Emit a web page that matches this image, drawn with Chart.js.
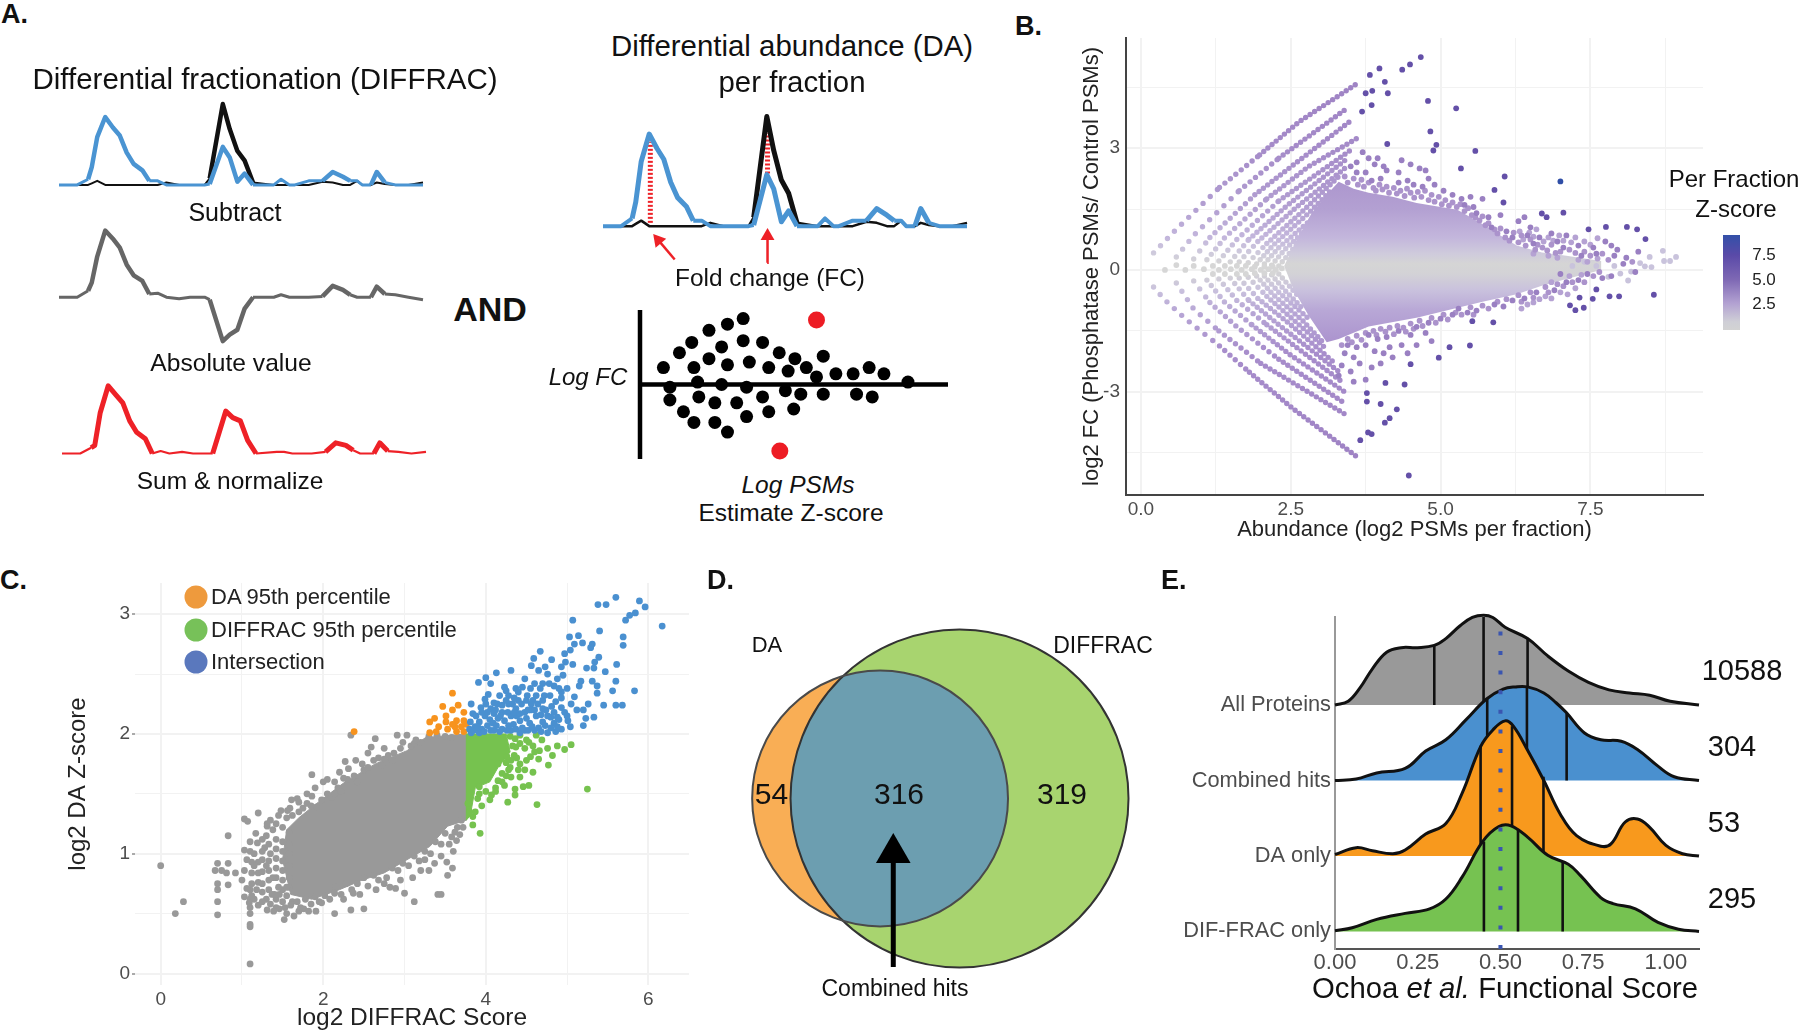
<!DOCTYPE html>
<html>
<head>
<meta charset="utf-8">
<title>DIFFRAC and DA panels</title>
<script src="https://cdn.jsdelivr.net/npm/chart.js@4"></script>
<style>
  html, body { margin: 0; padding: 0; background: #fff; overflow: hidden; }
  #page { position: relative; width: 1800px; height: 1031px; font-family: "Liberation Sans", Arial, sans-serif; color: #111; }
  #page canvas { position: absolute; filter: blur(0.4px); }
  .txt { position: absolute; transform: translate(-50%, -50%); white-space: nowrap; }
  .dot { position: absolute; width: 23px; height: 23px; border-radius: 50%; transform: translate(-50%, -50%); }
</style>
</head>
<body>
<div id="page"></div>
<script>
// ---------- Panel A: elution traces ----------
const fractions   = [0,5,8,9,10.5,12.7,14.8,16.7,18.6,20.5,22.9,24.8,27.1,29.5,33,36,40,41.4,45,46.9,49,51,53.3,59,61,63.3,64.8,68.6,72.4,75.2,78,80,81.9,83.3,85.7,87.3,89.5,92.4,96,100];
const controlPsms = [0,0,0,2,5,0,0,0,0,0,0,0,0,3,0,0,0,8,100,69,42,30,3,0,0,0,0,0,4,3,0,0,5,0,0,3,1,0,0,3];
const treatedPsms = [0,0,7,22,59,84,71,61,40,26,18,5,5,0,0,0,0,1,47,34,4,14,0,0,7,0,0,5,5,16,10,5,5,0,0,16,3,0,0,0];
const subtracted  = [0,0,8,18,50,82,72,61,40,27,20,4,5,0,-2,0,0,-3,-54,-46,-40,-14,0,0,3,0,0,0,1,14,9,3,0,0,0,13,4,3,0,-3];
const summedNorm  = [0,0,7,10,50,83,72,62,40,26,18,0,3,0,2,0,0,0,52,44,40,16,0,2,2,0,0,0,2,13,10,4,0,0,0,13,3,2,0,2];
const fcMarkerLeft  = [[13,3],[13,77]];
const fcMarkerRight = [[45.2,48],[45.2,85]];
const fcArrowLeft   = [[19.7,-30.4],[15.2,-12.8]];
const fcArrowRight  = [[45.1,-33.5],[45.2,-9]];

// schematic volcano
const schemDots = [[7.6,24.5],[12.8,46],[16.8,61],[22.4,78.5],[28.4,87.5],[33.5,95.5],[26.5,54.5],[33.5,63.5],[39.8,61],[45.2,46],[50.3,37.5],[59.5,41],[17.5,24.5],[22.4,37.5],[28.4,28.5],[35.5,32.5],[41.8,24.5],[48.1,19.5],[54,24.5],[57.3,11],[63.6,15.5],[69.2,15.5],[74.4,24.5],[79.2,15.5],[87,3.5],[18.7,3.5],[26.5,0],[9.7,-4],[34.6,-4],[47.2,-9],[52.2,-14],[59.5,-14],[70.3,-14],[75.4,-18],[9.7,-22.5],[19.1,-18],[24.3,-26.5],[31.4,-26.5],[39.8,-18],[14.1,-39.5],[17.5,-55],[24.3,-55],[34.6,-46.5],[41.8,-39.5],[49.9,-35.5],[28.4,-69]];
const schemHits = [[57.3,93.5],[45.4,-96.5]];
const schemAxisX = [[0,0],[100,0]];
const schemAxisY = [[0,108],[0,-108]];

// ---------- Panel B ----------
const bTicksX = [0, 2.5, 5, 7.5];
const bTicksY = [-3, 0, 3];
const bCloud = [[2.39,.1],[2.6,.75],[2.85,1.4],[3.1,1.85],[3.3,2.17],[3.55,2.0],[3.8,1.9],[4.2,1.8],[4.6,1.65],[5.28,1.48],[5.7,1.13],[6.0,.85],[6.27,.6],[6.69,.43],[7.1,.35],[7.68,.22],[7.68,0],[7.1,-.22],[6.69,-.39],[6.27,-.6],[5.7,-.78],[5.2,-.96],[4.62,-1.17],[3.8,-1.39],[3.3,-1.7],[3.1,-1.78],[2.8,-1.13],[2.55,-.5],[2.39,.1]];
const bUpperStripes = [
  [[.21,.42],[.59,1.0],[1.31,2.03],[1.98,2.83],[2.64,3.65],[3.63,4.61]],
  [[.59,.32],[.88,.85],[1.64,1.95],[2.3,2.75],[3.42,3.96]],
  [[.88,.27],[1.15,.8],[1.9,1.85],[2.6,2.65],[3.5,3.67]],
  [[1.1,.25],[1.4,.8],[2.1,1.75],[2.8,2.55],[3.63,3.26]],
  [[1.3,.22],[1.6,.75],[2.3,1.7],[3.5,2.95]],
  [[1.49,.2],[1.8,.75],[2.45,1.6],[3.45,2.75]],
  [[1.64,.2],[1.95,.7],[2.6,1.55],[3.4,2.5]],
  [[1.79,.18],[2.1,.65],[2.7,1.45],[3.3,2.3]],
  [[1.93,.15],[2.2,.6],[2.8,1.4],[3.2,2.0]],
  [[2.06,.15],[2.3,.55],[2.85,1.25],[3.1,1.7]],
  [[2.18,.12],[2.4,.5],[2.8,1.05]],
  [[2.3,.1],[2.5,.45],[2.7,.8]]
];
const bLowerStripes = [
  [[.21,-.42],[.4,-.74],[.74,-1.2],[1.31,-1.87],[1.81,-2.52],[2.55,-3.43],[3.05,-3.98],[3.63,-4.63]],
  [[.59,-.32],[.88,-.96],[1.3,-1.5],[2.0,-2.3],[2.9,-3.1],[3.46,-3.6]],
  [[.88,-.27],[1.15,-.8],[1.6,-1.4],[2.3,-2.2],[3.42,-3.3]],
  [[1.1,-.25],[1.4,-.8],[1.85,-1.35],[2.5,-2.1],[3.4,-3.0]],
  [[1.3,-.22],[1.6,-.75],[2.1,-1.35],[3.35,-2.75]],
  [[1.49,-.2],[1.8,-.75],[2.3,-1.35],[3.3,-2.5]],
  [[1.64,-.2],[1.95,-.7],[2.5,-1.35],[3.2,-2.25]],
  [[1.79,-.18],[2.1,-.65],[2.6,-1.3],[3.1,-1.95]],
  [[1.93,-.15],[2.2,-.6],[2.7,-1.25],[3.05,-1.8]],
  [[2.06,-.15],[2.3,-.55],[2.8,-1.2]],
  [[2.18,-.12],[2.4,-.5],[2.7,-.95]],
  [[2.3,-.1],[2.45,-.35],[2.6,-.6]]
];
// row of points around log2 FC = 0 between the two stripe fans
const bCentreRow = [[.4,0],[.74,0],[1.05,.02],[1.3,0],[1.5,.02],[1.68,0],[1.85,.02],[2.0,0],[2.13,.02],[2.25,0],[2.35,.04],[.59,.12],[.88,.1],[1.2,.1],[1.4,.1],[1.6,.1],[1.75,.1],[1.9,.08],[2.06,.08],[2.2,.08],[1.2,-.1],[1.4,-.1],[1.6,-.1],[1.75,-.1],[1.9,-.08],[2.06,-.08],[2.2,-.08]];
const bNavy = [[7.0,2.18]];
const bHigh = [[4.67,5.24],[4.49,5.06],[4.36,4.93],[3.98,4.96],[3.82,4.8],[4.07,4.63],[3.86,4.41],[3.75,4.35],[4.12,4.35],[3.85,4.06],[3.69,3.9],[4.79,4.16],[5.26,3.98],[4.83,3.41],[4.93,3.08],[4.88,2.94],[4.11,3.1],[5.58,2.93],[5.34,2.5],[6.07,2.3],[5.9,1.97],[6.05,1.66],[7.05,1.41],[6.69,1.39],[6.77,1.3],[7.47,1.0],[7.76,1.06],[8.11,1.06],[8.28,1.0],[8.42,.76],[8.56,-.61],[5.49,-1.86],[5.15,-1.9],[4.97,-2.16],[4.47,-5.06],[4.5,-2.32],[4.08,-2.78],[4.4,-2.82],[4.27,-3.43],[4.15,-3.65],[4.07,-3.76],[4.0,-3.3],[3.77,-3.03],[3.77,-3.24],[3.66,-4.19],[3.79,-4.0],[3.85,-4.04],[7.16,-.87],[7.39,-.93],[7.25,-.99],[7.32,-.68],[7.54,-.71],[7.6,-.48],[7.82,-.65],[7.98,-.65],[5.88,-1.29],[5.53,-1.26]];
const bMid = [[3.7,2.9],[3.8,2.75],[3.9,2.6],[3.6,2.65],[3.75,2.4],[3.95,2.75],[4.05,2.55],[4.1,2.45],[4.3,2.4],[4.35,2.7],[4.5,2.6],[4.65,2.5],[4.75,2.45],[4.8,2.25],[4.3,2.15],[4.45,2.2],[4.55,2.1],[4.7,2.05],[4.9,2.1],[5.05,1.95],[5.2,1.85],[5.35,1.75],[4.0,2.25],[3.85,2.2],[3.6,2.4],[3.5,2.55],[5.5,1.8],[5.7,1.75],[5.55,1.55],[5.8,1.3],[6.0,1.35],[5.4,1.6],[5.6,1.4],[5.85,1.05],[6.1,.95],[6.3,1.2],[6.4,1.3],[6.5,1.05],[6.2,.8],[6.45,.85],[6.65,.8],[6.85,.9],[6.55,.65],[6.95,.7],[7.1,.85],[7.05,.55],[7.3,.6],[7.55,.55],[7.75,.7],[7.85,.6],[7.6,.4],[7.95,.5],[8.1,.3],[8.3,.45],[8.05,.15],[7.9,.35],[7.35,.35],[7.45,-.1],[7.3,-.25],[7.1,-.3],[7.0,-.1],[7.7,-.2],[7.85,-.15],[8.25,-.05],[6.9,-.5],[6.6,-.55],[6.4,-.7],[6.2,-.75],[6.05,-.9],[5.9,-.85],[5.6,-1.0],[5.3,-.95],[5.45,-1.05],[5.2,-1.1],[5.0,-1.2],[4.8,-1.3],[4.6,-1.4],[4.75,-1.55],[4.5,-1.6],[4.3,-1.5],[4.1,-1.65],[3.95,-1.7],[3.8,-1.6],[4.15,-1.9],[4.35,-1.85],[4.6,-1.85],[4.85,-1.75],[4.05,-2.05],[4.2,-2.15],[3.9,-2.0],[3.75,-1.85],[3.6,-1.9],[3.45,-1.85],[3.4,-2.05],[3.55,-2.15],[3.65,-2.3],[4.0,-2.3],[4.45,-2.05],[3.85,-2.4],[3.5,-2.5],[3.35,-2.35],[3.3,-2.6],[3.55,-2.75],[3.75,-2.7]];
// speckle hugging the dense cloud
const bEdgeUpper = [[3.4,2.3],[3.45,2.15],[3.55,2.25],[3.62,2.1],[3.68,2.22],[3.72,2.05],[3.8,2.15],[3.88,2.02],[3.92,1.95],[3.98,2.1],[4.03,1.98],[4.1,2.05],[4.14,1.9],[4.22,2.02],[4.27,1.88],[4.33,1.95],[4.4,1.82],[4.44,2.0],[4.5,1.9],[4.56,1.78],[4.62,1.92],[4.68,1.8],[4.74,1.95],[4.8,1.72],[4.85,1.85],[4.9,1.68],[4.97,1.8],[5.02,1.62],[5.08,1.72],[5.14,1.58],[5.2,1.66],[5.27,1.55],[5.33,1.62],[5.4,1.45],[5.46,1.52],[5.52,1.35],[5.58,1.3],[5.65,1.22],[5.7,1.32],[5.75,1.1],[5.8,1.15],[5.9,1.0],[5.95,.9],[6.0,1.02],[6.08,.8],[6.15,.72],[6.22,.92],[6.3,.68],[6.35,.85],[6.42,.6],[6.5,.75],[6.58,.5],[6.62,.62],[6.7,.55],[6.78,.48],[6.85,.62],[6.92,.42],[7.0,.45],[7.15,.5],[7.25,.42],[7.4,.45],[7.5,.35],[7.7,.4],[8.2,.2],[7.8,.25]];
const bEdgeLower = [[3.35,-1.85],[3.45,-1.7],[3.52,-1.78],[3.6,-1.62],[3.68,-1.72],[3.75,-1.55],[3.88,-1.5],[3.93,-1.6],[4.0,-1.45],[4.08,-1.52],[4.15,-1.42],[4.22,-1.58],[4.28,-1.38],[4.38,-1.42],[4.42,-1.52],[4.5,-1.32],[4.55,-1.45],[4.65,-1.25],[4.7,-1.38],[4.85,-1.18],[4.92,-1.3],[5.05,-1.1],[5.12,-1.22],[5.25,-1.05],[5.35,-1.1],[5.5,-.92],[5.55,-1.1],[5.7,-.88],[5.8,-.95],[5.95,-.78],[6.1,-.72],[6.3,-.62],[6.35,-.78],[6.5,-.55],[6.55,-.68],[6.75,-.42],[6.8,-.55],[6.95,-.35],[7.05,-.4],[7.2,-.3],[7.4,-.3],[7.55,-.15],[7.65,-.05]];
// broader right-hand tail of the cloud
const bTail = [[6.32,.95],[6.38,.75],[6.48,.92],[6.55,.82],[6.6,1.0],[6.72,.7],[6.8,.8],[6.88,.72],[6.98,.85],[7.05,.72],[7.18,.68],[7.25,.8],[7.4,.7],[7.5,.62],[7.62,.78],[6.35,-.95],[6.45,-.85],[6.55,-.8],[6.65,-.72],[6.75,-.65],[6.85,-.7],[7.0,-.55],[7.12,-.6],[7.25,-.45],[6.55,.4],[6.8,.35],[6.95,.3],[7.3,.25],[7.45,.2],[7.62,.28],[6.85,-.3],[7.15,-.15],[7.35,-.12]];
const bLow = [[8.93,.32],[8.71,.47],[8.83,.22],[8.73,.22],[8.49,.32],[8.33,.17],[8.41,.09],[8.52,.07],[8.0,-.09],[8.18,-.04],[8.13,-.26],[7.8,-.17],[7.6,.1],[7.4,.2],[7.2,.1],[7.9,.1]];
const zBarRange = [-.23, 9.6];
const zBarTicks = [2.5, 5, 7.5];

// ---------- Panel C ----------
const cGrayCore = [[1.6,.66],[1.5,.95],[1.55,1.2],[1.7,1.3],[1.92,1.42],[2.25,1.59],[2.64,1.75],[3.03,1.86],[3.26,1.97],[3.76,2.0],[3.76,1.28],[3.53,1.23],[3.31,1.06],[3.03,.95],[2.75,.84],[2.48,.78],[2.2,.7],[1.86,.62],[1.6,.66]];
const cGray = [[0,.9],[.18,.5],[.28,.6],[.7,.49],[.7,.6],[1.1,.08],[1.1,.39],[1.1,.41],[1.1,.5],[.83,1.15],[1.03,1.29],[1.07,1.27],[1.2,1.34],[.67,.86],[.7,.92],[.83,.92],[.81,.84],[.75,.86],[.92,.84],[.7,.75],[.7,.7],[.83,.74],[1.03,1.03],[1.06,.95],[1.03,.86],[1.0,.78],[1.06,.71],[1.03,.64],[1.09,.59],[1.2,.57],[1.2,.84],[1.19,1.09],[1.17,1.17],[1.31,1.23],[1.31,.53],[1.39,.52],[1.52,.45],[1.53,.55],[1.64,.48],[1.91,.52],[2.14,.5],[2.34,.53],[2.5,.54],[2.89,.71],[3.0,.67],[3.12,.6],[3.41,.66],[3.45,.66],[2.75,.75],[2.37,.67],[2.14,.67],[1.98,.59],[3.37,.92],[3.53,.82],[3.59,.88],[3.52,.93],[3.2,.86],[3.64,1.11],[3.62,1.18],[3.7,1.28],[1.86,1.66],[2.0,1.6],[2.14,1.6],[2.27,1.77],[2.31,1.71],[2.48,1.75],[2.34,1.99],[2.64,1.96],[2.59,1.89],[2.75,1.88],[2.75,1.79],[2.91,1.99],[2.98,1.93],[3.03,1.99],[3.14,1.95],[2.87,1.84],[1.61,1.45],[1.7,1.43],[1.86,1.48],[2.14,1.5],[2.25,1.63],[1.45,1.32],[1.31,1.25],[1.59,1.38],[1.92,1.39],[1.15,.9],[1.18,.7],[1.25,.6],[1.15,1.0],[1.25,.85],[1.25,.75],[1.12,.65]];
const cGrayEdge = [[1.3,.62],[1.35,.58],[1.4,.66],[1.42,.55],[1.5,.6],[1.55,.65],[1.45,.72],[1.38,.8],[1.3,.9],[1.35,1.0],[1.28,1.05],[1.25,1.12],[1.3,1.15],[1.38,1.2],[1.42,1.25],[1.5,1.22],[1.55,1.3],[1.62,1.32],[1.7,1.35],[1.75,1.38],[1.8,1.42],[1.85,1.4],[1.98,1.45],[2.05,1.5],[2.1,1.47],[2.18,1.55],[2.22,1.52],[2.3,1.62],[2.38,1.65],[2.42,1.6],[2.5,1.7],[2.55,1.72],[2.62,1.78],[2.68,1.8],[2.72,1.74],[2.8,1.82],[2.85,1.78],[2.95,1.88],[3.08,1.9],[3.12,1.92],[3.2,1.93],[3.3,1.98],[3.4,1.99],[3.5,1.98],[3.58,1.97],[1.6,.57],[1.68,.6],[1.72,.55],[1.78,.62],[1.85,.58],[1.9,.64],[1.95,.6],[2.02,.65],[2.08,.62],[2.15,.72],[2.22,.66],[2.28,.75],[2.35,.7],[2.42,.75],[2.5,.8],[2.55,.73],[2.62,.82],[2.68,.78],[2.78,.8],[2.85,.88],[2.92,.86],[2.98,.92],[3.05,.9],[3.12,.98],[3.18,.94],[3.25,1.02],[3.32,1.0],[3.38,1.1],[3.45,1.08],[3.5,1.17],[3.58,1.14],[3.65,1.22],[3.72,1.22]];
// loose columns left of the dense core
const cGrayLeft = [[1.33,.7],[1.33,.78],[1.33,.86],[1.33,.94],[1.33,1.08],[1.42,.62],[1.42,.8],[1.42,.88],[1.42,.96],[1.42,1.04],[1.42,1.12],[1.5,.7],[1.5,.78],[1.5,.86],[1.5,.94],[1.5,1.02],[1.5,1.1],[1.58,.72],[1.58,.8],[1.58,.9],[1.58,1.0],[1.58,1.08],[1.58,1.18],[1.25,.68],[1.25,.95],[1.25,1.02],[1.2,.76],[1.2,.93],[1.12,.75],[1.12,.84],[1.12,.93],[1.1,1.02],[1.1,1.1],[1.1,.7],[1.1,.62],[1.1,.55],[1.15,.62],[1.37,.66],[1.46,.66],[1.55,.72],[1.62,.6],[1.46,.54],[1.55,.5],[1.7,.52],[1.76,.54],[1.82,.52],[1.35,1.28],[1.48,1.36],[1.56,1.36],[1.68,1.46],[1.8,1.5],[1.9,1.55],[2.05,1.62],[2.2,1.68],[2.4,1.78],[2.55,1.84],[3.3,.86],[3.45,.98],[3.25,.95],[3.1,.8],[2.95,.78],[2.82,.72],[2.65,.7],[2.45,.66],[2.25,.62],[3.6,1.02],[3.55,1.08],[3.68,1.16]];
const cOrange = [[2.38,2.02],[3.59,2.34],[3.47,2.23],[3.66,2.24],[3.59,2.2],[3.73,2.18],[3.51,2.15],[3.64,2.11],[3.73,2.11],[3.37,2.13],[3.31,2.1],[3.51,2.1],[3.42,2.06],[3.53,2.04],[3.62,2.06],[3.7,2.06],[3.76,2.08],[3.39,2.02],[3.31,2.01],[3.64,2.02],[3.73,2.02],[3.59,2.08]];
const cGreenCore = [[3.76,2.0],[4.25,2.0],[4.3,1.85],[4.15,1.72],[4.05,1.6],[3.87,1.55],[3.81,1.32],[3.76,1.28],[3.76,2.0]];
const cGreen = [[5.25,1.54],[4.63,1.41],[4.27,1.43],[4.07,1.49],[3.93,1.17],[3.84,1.24],[3.84,1.31],[3.87,1.35],[3.95,1.4],[3.9,1.46],[4.36,1.49],[4.36,1.54],[4.46,1.56],[4.53,1.57],[4.23,1.57],[4.31,1.64],[4.48,1.7],[4.58,1.68],[4.77,1.74],[4.82,1.82],[4.65,1.79],[4.55,1.81],[4.66,1.86],[4.76,1.88],[4.88,1.9],[4.97,1.87],[5.05,1.91],[4.69,1.95],[4.62,1.99],[4.53,1.93],[4.42,1.99],[4.48,1.88],[4.31,1.78],[4.42,1.75],[4.37,1.89],[4.2,1.67],[4.15,1.75],[4.26,1.81],[4.15,1.61],[4.42,1.64],[3.92,1.56],[3.8,1.35],[3.78,1.42],[3.92,1.5],[4.0,1.52],[4.05,1.45],[4.12,1.55],[4.2,1.6],[4.25,1.65],[4.3,1.72],[4.4,1.7],[4.5,1.78],[4.5,1.95],[4.58,1.9],[4.6,1.85],[4.42,1.92],[4.35,1.82],[4.28,1.7],[4.12,1.52],[4.3,1.98],[4.36,1.96],[4.33,1.9],[4.38,1.8],[4.25,1.76]];
const cBlue = [[5.6,3.14],[5.89,3.11],[5.96,3.06],[5.38,3.08],[5.48,3.08],[5.84,3.01],[5.77,2.99],[5.72,2.95],[6.17,2.9],[5.07,2.95],[5.4,2.86],[5.69,2.81],[5.69,2.74],[5.03,2.81],[5.14,2.82],[5.09,2.75],[5.19,2.76],[5.31,2.75],[5.29,2.72],[5.04,2.7],[4.97,2.67],[4.67,2.69],[4.59,2.63],[4.81,2.62],[5.39,2.64],[5.34,2.6],[4.98,2.6],[5.07,2.58],[5.61,2.58],[4.56,2.57],[4.73,2.56],[4.93,2.56],[5.24,2.55],[5.33,2.55],[5.47,2.52],[4.31,2.53],[4.13,2.51],[4.65,2.53],[4.76,2.5],[4.95,2.49],[4.0,2.47],[4.48,2.46],[5.17,2.44],[5.6,2.44],[5.31,2.44],[3.91,2.43],[4.06,2.42],[4.7,2.42],[4.84,2.4],[5.15,2.4],[5.37,2.4],[4.23,2.39],[4.37,2.38],[4.45,2.39],[4.67,2.38],[5.56,2.36],[5.83,2.36],[5.37,2.34],[4.93,2.35],[4.03,2.33],[4.17,2.32],[4.28,2.32],[4.51,2.32],[4.62,2.32],[4.79,2.32],[5.09,2.31],[3.99,2.29],[4.4,2.28],[4.7,2.28],[4.93,2.3],[5.45,2.24],[5.6,2.24],[5.68,2.24],[5.26,2.25],[3.82,2.25],[4.14,2.25],[4.28,2.25],[4.56,2.25],[4.81,2.23],[3.94,2.22],[4.06,2.21],[4.37,2.21],[4.7,2.21],[4.93,2.22],[5.2,2.2],[4.2,2.18],[4.48,2.18],[4.84,2.18],[3.84,2.17],[3.99,2.15],[4.31,2.15],[4.62,2.15],[4.76,2.15],[5.23,2.13],[5.33,2.14],[5.01,2.11],[3.81,2.1],[3.92,2.1],[4.09,2.09],[4.23,2.11],[4.42,2.11],[4.54,2.09],[4.7,2.1],[4.84,2.09],[5.2,2.07],[5.04,2.06],[4.93,2.04],[3.8,2.04],[3.95,2.04],[4.06,2.03],[4.2,2.04],[4.31,2.03],[4.48,2.03],[4.6,2.03],[4.76,2.01],[4.86,2.02],[3.82,2.01],[3.92,2.01],[4.42,2.01],[4.12,2.2],[4.35,2.3],[4.55,2.2],[4.15,2.13],[4.38,2.15],[4.58,2.28],[4.25,2.28],[3.87,2.06],[3.85,2.03],[3.9,2.06],[3.98,2.02],[4.02,2.07],[4.05,2.12],[4.1,2.03],[4.13,2.07],[4.17,2.02],[4.26,2.03],[4.28,2.07],[4.34,2.08],[4.37,2.04],[4.45,2.05],[4.52,2.03],[4.57,2.06],[4.65,2.05],[4.68,2.02],[4.73,2.07],[4.8,2.05],[4.88,2.06],[4.9,2.12],[3.88,2.15],[3.95,2.18],[4.02,2.18],[4.1,2.17],[4.18,2.15],[4.27,2.18],[4.35,2.18],[4.42,2.17],[4.5,2.13],[4.52,2.2],[4.6,2.2],[4.68,2.16],[4.74,2.2],[4.8,2.14],[4.88,2.14],[4.97,2.18],[4.0,2.25],[4.1,2.26],[4.2,2.24],[4.33,2.25],[4.44,2.25],[4.5,2.28],[4.64,2.25],[4.72,2.32],[4.86,2.27],[4.4,2.35],[4.55,2.38],[4.25,2.36],[4.6,2.42],[4.78,2.42],[4.88,2.46],[4.9,2.38],[5.0,2.38],[5.05,2.25],[5.0,2.15],[5.12,2.2]];

// ---------- Panel D ----------
const vennBig   = { x: 0, y: 0, radius: 1 };
const vennSmall = { x: -.47, y: 0, radius: .757 };
const vennArrow = [[-.392,-.997],[-.392,-.322]];

// ---------- Panel E ----------
const ridgeNames = ['DIF-FRAC only', 'DA only', 'Combined hits', 'All Proteins'];
const ridgeBases = [0, 1, 2, 3];
const scoreTicks = [0, .25, .5, .75, 1];
const allX  = [0,.04,.076,.113,.156,.2,.249,.3,.335,.378,.415,.449,.477,.514,.582,.643,.705,.766,.828,.89,.951,1.013,1.1];
const allY  = [0,.05,.23,.48,.70,.76,.76,.79,.88,1.05,1.16,1.19,1.16,1.03,.88,.65,.45,.30,.2,.16,.13,.05,0];
const combX = [0,.064,.126,.212,.274,.335,.397,.458,.508,.545,.582,.631,.668,.699,.754,.803,.865,.914,.976,1.025,1.1];
const combY = [0,.02,.1,.16,.39,.54,.81,1.08,1.21,1.24,1.24,1.16,1.03,.9,.63,.54,.52,.41,.19,.05,0];
const daX   = [0,.064,.113,.175,.212,.274,.335,.384,.44,.477,.514,.539,.582,.631,.68,.73,.803,.834,.877,.914,.951,1.0,1.05,1.1];
const daY   = [.02,.11,.07,.03,.08,.29,.43,.83,1.45,1.67,1.79,1.72,1.4,1.0,.56,.27,.13,.16,.45,.49,.38,.14,.03,0];
const difX  = [0,.052,.126,.212,.286,.335,.384,.446,.495,.532,.582,.643,.705,.742,.803,.84,.908,.976,1.038,1.1];
const difY  = [.01,.05,.16,.24,.3,.43,.72,1.19,1.39,1.4,1.25,1.01,.89,.74,.45,.37,.3,.12,.03,0];
const allQuant  = [[.3,.79],[.449,1.19],[.582,.88]];
const combQuant = [[.46,1.08],[.58,1.24],[.70,.89]];
const daQuant   = [[.44,1.46],[.535,1.72],[.63,1.05]];
const difQuant  = [[.45,1.19],[.553,1.36],[.688,.92]];
const refScore  = .5;

// ---------- helpers ----------
const page = document.getElementById('page');
const SANS = '"Liberation Sans", Arial, sans-serif';
const TICK = '#4d4d4d';
const pts = arr => arr.map(([x, y]) => ({ x, y }));
const series = (xs, ys) => xs.map((x, i) => ({ x, y: ys[i] }));

function addText(html, x, y, size, extra) {
  const el = document.createElement('div');
  el.className = 'txt';
  el.innerHTML = html;
  el.style.left = x + 'px';
  el.style.top = y + 'px';
  el.style.fontSize = size + 'px';
  if (extra) Object.assign(el.style, extra);
  page.appendChild(el);
}

// puts a chart so that its plot area lands on the given rectangle; m = canvas margins
function addChart(rect, m, config) {
  const c = document.createElement('canvas');
  c.width = rect.right - rect.left + m.l + m.r;
  c.height = rect.bottom - rect.top + m.t + m.b;
  c.style.left = (rect.left - m.l) + 'px';
  c.style.top = (rect.top - m.t) + 'px';
  page.appendChild(c);
  const o = config.options = config.options || {};
  o.responsive = false;
  o.animation = false;
  o.devicePixelRatio = 1;
  o.plugins = Object.assign({ legend: { display: false }, tooltip: { enabled: false } }, o.plugins);
  // autoPadding would shrink the plot to make room for big points
  o.layout = { autoPadding: false, padding: m.axes ? { top: m.t, right: m.r, left: 0, bottom: 0 } : { top: m.t, right: m.r, left: m.l, bottom: m.b } };
  if (m.axes) {
    o.scales.x.afterFit = s => { s.height = m.b; };
    o.scales.y.afterFit = s => { s.width = m.l; };
  }
  return new Chart(c.getContext('2d'), config);
}

const hiddenScales = (xmin, xmax, ymin, ymax) => ({
  x: { type: 'linear', display: false, min: xmin, max: xmax },
  y: { type: 'linear', display: false, min: ymin, max: ymax }
});

// vertical gradient pinned to y-axis values
function yGradient(chart, stops) {
  const sc = chart.scales.y;
  const top = stops[0][0], bot = stops[stops.length - 1][0];
  const p0 = sc ? sc.getPixelForValue(top) : NaN, p1 = sc ? sc.getPixelForValue(bot) : NaN;
  // before the first layout the scale has no pixels yet
  if (!isFinite(p0) || !isFinite(p1)) return stops[stops.length >> 1][1];
  const g = chart.ctx.createLinearGradient(0, p0, 0, p1);
  stops.forEach(([v, col]) => g.addColorStop((top - v) / (top - bot), col));
  return g;
}

// ---------- Panel A charts ----------
function traceLine(ys, color, thick, thin) {
  return {
    data: series(fractions, ys), borderColor: color, borderWidth: thick,
    pointRadius: 0, clip: false, borderJoinStyle: 'round', tension: 0,
    segment: { borderWidth: ctx => Math.max(Math.abs(ctx.p0.parsed.y), Math.abs(ctx.p1.parsed.y)) > 8 ? thick : thin }
  };
}
function traceChart(rect, ymin, ymax, datasets) {
  addChart(rect, { l: 10, r: 10, t: 10, b: 10 }, {
    type: 'line', data: { datasets },
    options: { parsing: true, scales: hiddenScales(0, 100, ymin, ymax) }
  });
}
traceChart({ left: 58.6, right: 422.6, top: 100.4, bottom: 194.2 }, -10, 105, [
  traceLine(treatedPsms, '#4a94d2', 4.5, 3), traceLine(controlPsms, '#111', 4.5, 2)
]);
traceChart({ left: 58.6, right: 422.6, top: 219.6, bottom: 345.9 }, -60, 95, [traceLine(subtracted, '#666', 4.5, 3)]);
traceChart({ left: 61.6, right: 425.6, top: 376, bottom: 460 }, -8, 95, [traceLine(summedNorm, '#ee2127', 5, 2.2)]);

const arrowDs = (arr, rot) => ({
  data: pts(arr), borderColor: '#ee2127', backgroundColor: '#ee2127', borderWidth: 2.5, clip: false,
  pointRadius: [0, 8], pointStyle: 'triangle', pointRotation: rot, pointBorderWidth: 0
});
const markerDs = arr => ({ data: pts(arr), borderColor: '#ee2127', borderWidth: 5, borderDash: [2, 2], pointRadius: 0 });
traceChart({ left: 603, right: 967, top: 110.5, bottom: 270 }, -40, 105, [
  arrowDs(fcArrowLeft, -40), arrowDs(fcArrowRight, 0),
  traceLine(treatedPsms, '#4a94d2', 5, 4), traceLine(controlPsms, '#111', 5, 2.5),
  markerDs(fcMarkerLeft), markerDs(fcMarkerRight)
]);

const schemLine = arr => ({ type: 'line', data: pts(arr), borderColor: '#000', borderWidth: 4.5, pointRadius: 0, clip: false });
addChart({ left: 640, right: 948, top: 310, bottom: 459 }, { l: 10, r: 10, t: 10, b: 10 }, {
  type: 'scatter',
  data: { datasets: [
    { data: pts(schemHits), backgroundColor: '#ed1c24', pointRadius: 8.5, borderWidth: 0, clip: false },
    { data: pts(schemDots), backgroundColor: '#000', pointRadius: 6.5, borderWidth: 0, clip: false },
    schemLine(schemAxisX), schemLine(schemAxisY)
  ] },
  options: { scales: hiddenScales(0, 100, -108, 108) }
});

// ---------- Panel B chart ----------
const yRamp = [[5.7,'#9b7ec1'],[3,'#a58bc9'],[1.5,'#b3a0d2'],[.8,'#c3b6dc'],[.4,'#cfcbdc'],[.15,'#d5d5d5'],[-.1,'#d3d2d6'],[-.5,'#c9c1dd'],[-1,'#b8a7d6'],[-2,'#a88ecc'],[-5.5,'#9b7ec1']];
const stripeDs = s => ({
  type: 'line', data: pts(s), pointRadius: 0, borderWidth: 5.4, borderCapStyle: 'round',
  borderColor: ctx => yGradient(ctx.chart, yRamp),
  segment: { borderDash: ctx => ctx.p0.parsed.x < 1 ? [0, 10] : ctx.p0.parsed.x < 1.8 ? [0, 7] : [0, 5.4] }
});
const dotsDs = (arr, color) => ({ data: pts(arr), backgroundColor: color, pointRadius: 2.9, borderWidth: 0 });
const gridWidth = majors => ctx => ctx.tick && majors.includes(ctx.tick.value) ? 2 : 1;

addChart({ left: 1126, right: 1703, top: 38, bottom: 495 }, { l: 50, r: 20, t: 30, b: 50, axes: true }, {
  type: 'scatter',
  data: { datasets: [
    dotsDs(bNavy, '#2f4ea6'),
    dotsDs(bHigh, '#6450a8'),
    dotsDs(bMid, '#9a80c2'),
    dotsDs(bEdgeUpper, '#ab93cc'),
    dotsDs(bEdgeLower, '#ab93cc'),
    dotsDs(bTail, '#b5a2d3'),
    dotsDs(bLow, '#c9c3dc'),
    dotsDs(bCentreRow, '#d6d6d6'),
    { type: 'line', data: pts(bCloud), fill: 'shape', pointRadius: 0, borderWidth: 0,
      backgroundColor: ctx => yGradient(ctx.chart, yRamp) },
    ...bUpperStripes.map(stripeDs),
    ...bLowerStripes.map(stripeDs)
  ] },
  options: { scales: {
    x: {
      type: 'linear', min: -.25, max: 9.38,
      border: { display: true, color: '#444', width: 2 },
      grid: { color: '#f2f2f2', drawTicks: false, lineWidth: gridWidth(bTicksX) },
      ticks: { stepSize: 1.25, includeBounds: false, autoSkip: false, maxRotation: 0, padding: 3, color: TICK,
        font: { family: SANS, size: 19 }, callback: v => bTicksX.includes(v) ? v.toFixed(1) : '' },
      title: { display: true, text: 'Abundance (log2 PSMs per fraction)', color: '#222',
        font: { family: SANS, size: 22 }, padding: { top: 0, bottom: 2 } }
    },
    y: {
      type: 'linear', min: -5.54, max: 5.71,
      border: { display: true, color: '#444', width: 2 },
      grid: { color: '#f2f2f2', drawTicks: false, lineWidth: gridWidth(bTicksY) },
      ticks: { stepSize: 1.5, includeBounds: false, autoSkip: false, padding: 6, color: TICK,
        font: { family: SANS, size: 19 }, callback: v => bTicksY.includes(v) ? String(v) : '' },
      title: { display: true, text: 'log2 FC (Phosphatase PSMs/ Control PSMs)', color: '#222',
        font: { family: SANS, size: 22 }, padding: { top: 3, bottom: 0 } }
    }
  } }
});

// z-score colour bar
const zRamp = [[9.6,'#3350a8'],[7.5,'#5a4aa8'],[5,'#7e68b4'],[2.5,'#b3a2d2'],[.6,'#cfcfd6'],[-.23,'#d3d3d3']];
addChart({ left: 1722.5, right: 1740, top: 234.5, bottom: 330 }, { l: 2, r: 50, t: 6, b: 6, axes: true }, {
  type: 'bar',
  data: { labels: [''], datasets: [{ data: [zBarRange], barPercentage: 1, categoryPercentage: 1, borderWidth: 0,
    backgroundColor: ctx => yGradient(ctx.chart, zRamp) }] },
  options: { scales: {
    x: { display: true, ticks: { display: false }, grid: { display: false }, border: { display: false } },
    y: { type: 'linear', position: 'left', min: zBarRange[0], max: zBarRange[1],
      grid: { display: false }, border: { display: false },
      afterBuildTicks: s => { s.ticks = zBarTicks.map(value => ({ value })); },
      ticks: { display: false } }
  } }
});
zBarTicks.forEach((v, i) => addText(v.toFixed(1), 1764, [303.5, 279.5, 255][i], 17, { color: '#222' }));

// ---------- Panel C chart ----------
const coreDs = (arr, color) => ({ type: 'line', data: pts(arr), fill: 'shape', pointRadius: 0, borderWidth: 1, borderColor: color, backgroundColor: color });
const cDots = (arr, color) => ({ data: pts(arr), backgroundColor: color, pointRadius: 3.4, borderWidth: 0 });
addChart({ left: 135, right: 689, top: 583, bottom: 985 }, { l: 72, r: 20, t: 30, b: 48, axes: true }, {
  type: 'scatter',
  data: { datasets: [
    cDots(cBlue, '#4a90d0'),
    cDots(cOrange, '#f7931e'),
    cDots(cGreen, '#76c24f'),
    coreDs(cGreenCore, '#76c24f'),
    cDots(cGray, '#999999'),
    cDots(cGrayEdge, '#999999'),
    cDots(cGrayLeft, '#999999'),
    coreDs(cGrayCore, '#999999')
  ] },
  options: { scales: {
    x: {
      type: 'linear', min: -.316, max: 6.5,
      border: { display: false },
      grid: { color: '#f2f2f2', drawTicks: false, lineWidth: gridWidth([0, 2, 4, 6]) },
      ticks: { stepSize: 1, includeBounds: false, autoSkip: false, maxRotation: 0, padding: 3, color: TICK,
        font: { family: SANS, size: 19 }, callback: v => v % 2 === 0 ? String(v) : '' },
      title: { display: true, text: 'log2 DIFFRAC Score', color: '#222', font: { family: SANS, size: 24.5 }, padding: 0 }
    },
    y: {
      type: 'linear', min: -.096, max: 3.26,
      border: { display: false },
      grid: { color: '#f2f2f2', tickColor: ctx => Number.isInteger(ctx.tick.value) ? '#555' : 'rgba(0,0,0,0)', tickLength: 3, tickWidth: 1, lineWidth: gridWidth([0, 1, 2, 3]) },
      ticks: { stepSize: .5, includeBounds: false, autoSkip: false, padding: 2, color: TICK,
        font: { family: SANS, size: 19 }, callback: v => Number.isInteger(v) ? String(v) : '' },
      title: { display: true, text: 'log2 DA Z-score', color: '#222', font: { family: SANS, size: 24 }, padding: { top: 1, bottom: 0 } }
    }
  } }
});
[['#ee9a3d', 597, 'DA 95th percentile'], ['#77c159', 630, 'DIFFRAC 95th percentile'], ['#5a78bd', 662, 'Intersection']].forEach(([col, y, label]) => {
  const d = document.createElement('div');
  d.className = 'dot';
  d.style.cssText = `left:196px;top:${y}px;background:${col}`;
  page.appendChild(d);
  addText(label, 211, y, 22, { transform: 'translate(0,-50%)', color: '#222' });
});

// ---------- Panel D chart ----------
const VENN_RECT = { left: 740, right: 1140, top: 620, bottom: 980 };
const vennXRange = [-1.299, 1.068], vennYRange = [-1.074, 1.056];
const pxPerUnit = (VENN_RECT.right - VENN_RECT.left) / (vennXRange[1] - vennXRange[0]);
const bubble = v => [{ x: v.x, y: v.y, r: v.radius * pxPerUnit }];
const vennEdge = '#4a4a4a';

// the overlap colour must stay inside the DIFFRAC circle
const clipToBig = {
  id: 'clipToBig',
  beforeDatasetDraw(chart, args) {
    if (chart.data.datasets[args.index].label !== 'overlap') return;
    const sx = chart.scales.x, sy = chart.scales.y, ctx = chart.ctx;
    ctx.save();
    ctx.beginPath();
    ctx.arc(sx.getPixelForValue(vennBig.x), sy.getPixelForValue(vennBig.y), vennBig.radius * pxPerUnit, 0, Math.PI * 2);
    ctx.clip();
  },
  afterDatasetDraw(chart, args) {
    if (chart.data.datasets[args.index].label === 'overlap') chart.ctx.restore();
  }
};
addChart(VENN_RECT, { l: 10, r: 10, t: 10, b: 10 }, {
  type: 'bubble',
  plugins: [clipToBig],
  data: { datasets: [
    { type: 'line', data: pts(vennArrow), borderColor: '#000', backgroundColor: '#000', borderWidth: 5, clip: false,
      pointRadius: [0, 20], pointStyle: 'triangle', pointBorderWidth: 0 },
    { data: bubble(vennSmall), backgroundColor: 'rgba(0,0,0,0)', borderColor: vennEdge, borderWidth: 2, clip: false },
    { data: bubble(vennBig), backgroundColor: 'rgba(0,0,0,0)', borderColor: '#333', borderWidth: 2, clip: false },
    { label: 'overlap', data: bubble(vennSmall), backgroundColor: '#6c9eb0', borderWidth: 0, clip: false },
    { data: bubble(vennBig), backgroundColor: '#a8d46f', borderWidth: 0, clip: false },
    { data: bubble(vennSmall), backgroundColor: '#f9ae55', borderWidth: 0, clip: false }
  ] },
  options: { scales: hiddenScales(vennXRange[0], vennXRange[1], vennYRange[0], vennYRange[1]) }
});

// ---------- Panel E chart ----------
const ridgeRange = [-.232, 4.166];
const ridgeDs = (xs, ys, base, color) => ({
  type: 'line', data: xs.map((x, i) => ({ x, y: base + ys[i] })), fill: { value: base },
  backgroundColor: color, borderColor: '#111', borderWidth: 3, tension: .4, pointRadius: 0, clip: false
});
const quantDs = (q, base) => q.map(([x, h]) => ({
  type: 'line', data: [{ x, y: base }, { x, y: base + h }], borderColor: '#111', borderWidth: 2.6, pointRadius: 0
}));
addChart({ left: 1334.7, right: 1698.7, top: 617, bottom: 949 }, { l: 170, r: 20, t: 30, b: 38, axes: true }, {
  type: 'scatter',
  data: { datasets: [
    { type: 'line', data: pts([[refScore, ridgeRange[0]], [refScore, ridgeRange[1]]]), borderColor: '#3a55b0', borderWidth: 4, borderDash: [4, 15.6], pointRadius: 0, clip: false },
    ...quantDs(difQuant, 0), ridgeDs(difX, difY, 0, '#76c251'),
    ...quantDs(daQuant, 1), ridgeDs(daX, daY, 1, '#f8991d'),
    ...quantDs(combQuant, 2), ridgeDs(combX, combY, 2, '#4a90cf'),
    ...quantDs(allQuant, 3), ridgeDs(allX, allY, 3, '#999999')
  ] },
  options: { scales: {
    x: {
      type: 'linear', min: 0, max: 1.1,
      border: { display: true, color: '#555', width: 2 }, grid: { display: false, drawTicks: false },
      afterBuildTicks: s => { s.ticks = scoreTicks.map(value => ({ value })); },
      ticks: { autoSkip: false, maxRotation: 0, padding: 1, color: TICK, font: { family: SANS, size: 22 }, callback: v => v.toFixed(2) }
    },
    y: {
      type: 'linear', min: ridgeRange[0], max: ridgeRange[1],
      border: { display: true, color: '#999', width: 2 }, grid: { display: false, drawTicks: false },
      afterBuildTicks: s => { s.ticks = ridgeBases.map(value => ({ value })); },
      ticks: { autoSkip: false, padding: 4, color: TICK, font: { family: SANS, size: 21.8 }, callback: v => ridgeNames[v] }
    }
  } }
});

// ---------- plain text ----------
const BOLD = { fontWeight: 'bold', transform: 'translate(0,-50%)' };
addText('A.', 1, 14, 27, BOLD);
addText('B.', 1015, 26, 27, BOLD);
addText('C.', 0, 580, 27, BOLD);
addText('D.', 707, 580, 27, BOLD);
addText('E.', 1161, 580, 27, BOLD);

addText('Differential fractionation (DIFFRAC)', 265, 79, 29.5);
addText('Subtract', 235, 212, 25);
addText('Absolute value', 231, 363, 24.6);
addText('Sum &amp; normalize', 230, 481, 24.5);
addText('AND', 490, 309, 34, { fontWeight: 'bold' });
addText('Differential abundance (DA)', 792, 46, 29.4);
addText('per fraction', 792, 82, 29.4);
addText('Fold change (FC)', 770, 278, 24.4);
addText('<i>Log FC</i>', 588, 377, 24);
addText('<i>Log PSMs</i>', 798, 485, 24.5);
addText('Estimate Z-score', 791, 513, 24.5);

addText('Per Fraction', 1734, 179, 24);
addText('Z-score', 1736, 209, 24);

addText('DA', 767, 645, 22);
addText('DIFFRAC', 1103, 645, 23);
addText('54', 771.5, 794, 30);
addText('316', 899, 794, 30);
addText('319', 1062, 794, 30);
addText('Combined hits', 895, 988, 23);

addText('10588', 1742, 670, 29);
addText('304', 1732, 746, 29);
addText('53', 1724, 822, 29);
addText('295', 1732, 898, 29);
addText('Ochoa <i>et al.</i> Functional Score', 1505, 988, 29.3);
</script>
</body>
</html>
